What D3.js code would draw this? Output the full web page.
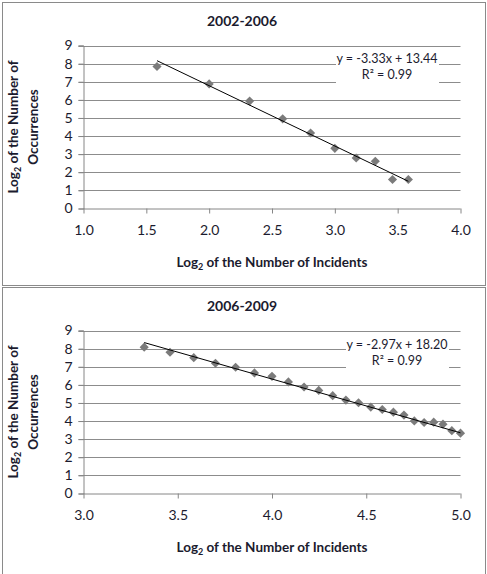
<!DOCTYPE html>
<html>
<head>
<meta charset="utf-8">
<script src="https://cdn.jsdelivr.net/npm/d3@7"></script>
<style>
  body { margin: 0; background: #fff; }
  text { font-family: Lato, "Liberation Sans", sans-serif; fill: #1b1b2e; }
</style>
</head>
<body>
<div id="chart"></div>
<script>
// Panel titles
const titles = ["2002-2006", "2006-2009"];

// Log2 of the number of incidents (x) and occurrences (y)
const incidents0206 = [1.585, 2.0, 2.322, 2.585, 2.807, 3.0, 3.170, 3.322, 3.459, 3.585];
const occurrences0206 = [7.84, 6.88, 5.93, 4.95, 4.17, 3.32, 2.79, 2.61, 1.60, 1.60];

const incidents0609 = [3.322, 3.459, 3.585, 3.700, 3.807, 3.907, 4.0, 4.087, 4.170, 4.248,
    4.322, 4.392, 4.459, 4.524, 4.585, 4.644, 4.700, 4.755, 4.807, 4.858, 4.907, 4.954, 5.0];
const occurrences0609 = [8.08, 7.80, 7.50, 7.19, 6.97, 6.66, 6.47, 6.16, 5.88, 5.69,
    5.40, 5.16, 5.01, 4.77, 4.64, 4.49, 4.33, 4.01, 3.92, 3.94, 3.83, 3.47, 3.33];

// Linear trendlines (slope, intercept) and labels
const slopes = [-3.33, -2.97];
const intercepts = [13.44, 18.20];
const eqLabels = ["y = -3.33x + 13.44", "y = -2.97x + 18.20"];
const r2Labels = ["R\u00b2 = 0.99", "R\u00b2 = 0.99"];

// Axis ticks
const xTicks0206 = [1.0, 1.5, 2.0, 2.5, 3.0, 3.5, 4.0];
const xTicks0609 = [3.0, 3.5, 4.0, 4.5, 5.0];
const yTicks = [0, 1, 2, 3, 4, 5, 6, 7, 8, 9];

const W = 487, H = 574;
const svg = d3.select("#chart").append("svg")
    .attr("width", W)
    .attr("height", H);

const panels = [
    { top: 0, xs: incidents0206, ys: occurrences0206, xDomain: [1, 4], xTicks: xTicks0206,
      eqX: 387, eqBox: [336, 49, 103, 36] },
    { top: 285, xs: incidents0609, ys: occurrences0609, xDomain: [3, 5], xTicks: xTicks0609,
      eqX: 397, eqBox: [346, 50, 103, 36] }
];

const plot = { left: 83.5, right: 460.5, top: 45.5, bottom: 208.5 };

panels.forEach((p, i) => {
    const g = svg.append("g").attr("transform", `translate(0,${p.top})`);

    // outer chart border
    g.append("rect")
        .attr("x", 2.5).attr("y", 2.5)
        .attr("width", 483).attr("height", i === 0 ? 283 : 400)
        .attr("fill", "none")
        .attr("stroke", "#8a8a8a")
        .attr("stroke-width", 1);

    const x = d3.scaleLinear().domain(p.xDomain).range([plot.left, plot.right]);
    const y = d3.scaleLinear().domain([0, 9]).range([plot.bottom, plot.top]);

    // gridlines
    g.append("g")
        .selectAll("line")
        .data(yTicks.filter(d => d > 0))
        .enter().append("line")
        .attr("x1", plot.left - 5).attr("x2", plot.right)
        .attr("y1", d => Math.round(y(d)) + 0.5).attr("y2", d => Math.round(y(d)) + 0.5)
        .attr("stroke", "#8c8c8c");

    // y axis
    const yAxis = g.append("g")
        .attr("transform", `translate(${plot.left},0)`)
        .call(d3.axisLeft(y).tickValues(yTicks).tickSize(5).tickPadding(6).tickFormat(d3.format("d")));
    yAxis.selectAll("path, line").attr("stroke", "#868686");
    yAxis.selectAll("text").style("font-size", "14px").attr("fill", "#1b1b2e");

    // x axis
    const xAxis = g.append("g")
        .attr("transform", `translate(0,${plot.bottom})`)
        .call(d3.axisBottom(x).tickValues(p.xTicks).tickSize(5).tickSizeOuter(0).tickPadding(12).tickFormat(d3.format(".1f")));
    xAxis.selectAll("path, line").attr("stroke", "#868686");
    xAxis.select(".domain").attr("d", `M${plot.left},0.5H${plot.right}`);
    xAxis.selectAll("text").style("font-size", "14px").attr("fill", "#1b1b2e");

    // title
    g.append("text")
        .attr("x", 242).attr("y", 26)
        .attr("text-anchor", "middle")
        .style("font-size", "14px").style("font-weight", "bold")
        .text(titles[i]);

    // x axis title
    const xt = g.append("text")
        .attr("x", 272).attr("y", 267)
        .attr("text-anchor", "middle")
        .style("font-size", "13.5px").style("font-weight", "bold");
    xt.append("tspan").text("Log");
    xt.append("tspan").attr("dy", 3).style("font-size", "9px").text("2");
    xt.append("tspan").attr("dy", -3).text(" of the Number of Incidents");

    // y axis title (two lines, rotated)
    const yt = g.append("text")
        .attr("transform", `translate(18,127) rotate(-90)`)
        .attr("text-anchor", "middle")
        .style("font-size", "13.5px").style("font-weight", "bold");
    yt.append("tspan").text("Log");
    yt.append("tspan").attr("dy", 3).style("font-size", "9px").text("2");
    yt.append("tspan").attr("dy", -3).text(" of the Number of");
    g.append("text")
        .attr("transform", `translate(38,127) rotate(-90)`)
        .attr("text-anchor", "middle")
        .style("font-size", "13.5px").style("font-weight", "bold")
        .text("Occurrences");

    // points
    const data = p.xs.map((v, k) => ({ x: v, y: p.ys[k] }));
    g.append("g")
        .selectAll("path")
        .data(data)
        .enter().append("path")
        .attr("d", d3.symbol(d3.symbolSquare, 42))
        .attr("transform", d => `translate(${x(d.x)},${y(d.y)}) rotate(45)`)
        .attr("fill", "#7b7b7b");

    // trendline
    const x0 = d3.min(p.xs), x1 = d3.max(p.xs);
    g.append("line")
        .attr("x1", x(x0)).attr("y1", y(slopes[i] * x0 + intercepts[i]))
        .attr("x2", x(x1)).attr("y2", y(slopes[i] * x1 + intercepts[i]))
        .attr("stroke", "#000")
        .attr("stroke-width", 1);

    // equation label with white backing
    g.append("rect")
        .attr("x", p.eqBox[0]).attr("y", p.eqBox[1])
        .attr("width", p.eqBox[2]).attr("height", p.eqBox[3])
        .attr("fill", "#fff");
    g.append("text")
        .attr("x", p.eqX).attr("y", p.eqBox[1] + 14)
        .attr("text-anchor", "middle")
        .style("font-size", "12.5px")
        .text(eqLabels[i]);
    g.append("text")
        .attr("x", p.eqX).attr("y", p.eqBox[1] + 30)
        .attr("text-anchor", "middle")
        .style("font-size", "12.5px")
        .text(r2Labels[i]);
});
</script>
</body>
</html>
